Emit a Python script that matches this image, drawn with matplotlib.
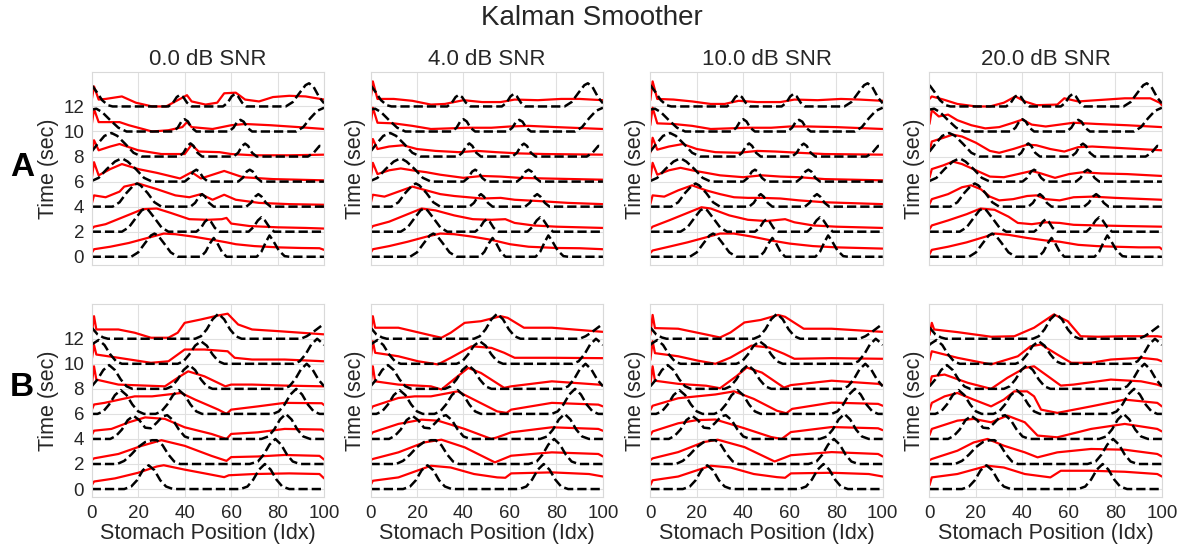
import matplotlib
matplotlib.use("Agg")
import matplotlib.pyplot as plt
import seaborn as sns

snr_titles = ["0.0 dB SNR", "4.0 dB SNR", "10.0 dB SNR", "20.0 dB SNR"]
row_names = ["A", "B"]
times = [0, 2, 4, 6, 8, 10, 12]
xticks = [0, 20, 40, 60, 80, 100]
yticks = [0, 2, 4, 6, 8, 10, 12]

# true wave (black dashed), (position, height above the time line), one list per time
true_A = [
    [(0, 0), (17, 0), (20, 0.35), (23, 1.1), (25.5, 1.7), (27, 1.85), (28.5, 1.7), (31, 1.1), (34, 0.35), (37, 0),
     (47, 0), (49, 0.4), (51, 1.1), (52.5, 1.5), (54, 1.1), (56, 0.4), (58, 0),
     (71, 0), (73, 0.4), (75, 1.2), (76.5, 1.7), (78, 1.3), (80.5, 0.5), (83, 0.05), (85, 0), (100, 0)],
    [(0, 0), (13, 0), (16, 0.35), (19, 1.1), (21.5, 1.7), (23, 1.85), (24.5, 1.7), (27, 1.1), (30, 0.35), (33, 0),
     (45, 0), (47, 0.3), (48.7, 0.8), (50, 1.0), (51.3, 0.8), (53, 0.3), (55, 0),
     (67.5, 0), (69.5, 0.35), (71.5, 0.9), (73, 1.15), (74.5, 0.9), (76.5, 0.35), (78.5, 0), (100, 0)],
    [(0, 0), (9, 0), (12, 0.35), (15, 1.1), (18, 1.7), (19.5, 1.85), (21, 1.7), (24, 1.1), (27, 0.35), (30, 0),
     (42.5, 0), (44.5, 0.3), (46.2, 0.8), (47.5, 1.0), (48.8, 0.8), (50.5, 0.3), (52.5, 0),
     (66.5, 0), (68.5, 0.3), (70.3, 0.8), (71.7, 1.0), (73.1, 0.8), (75, 0.3), (77, 0), (100, 0)],
    [(0, 0.05), (3, 0.3), (6.5, 1.0), (10, 1.6), (12, 1.78), (13.6, 1.8), (15.5, 1.6), (19, 1.0), (22.5, 0.3), (26, 0),
     (40, 0), (42, 0.3), (43.7, 0.8), (45, 0.95), (46.3, 0.8), (48, 0.3), (50, 0),
     (63, 0), (65, 0.3), (66.7, 0.8), (68, 0.95), (69.3, 0.8), (71, 0.3), (73, 0), (100, 0)],
    [(0, 0.4), (2.5, 1.0), (5.5, 1.65), (8.5, 1.88), (11, 1.65), (14.5, 1.0), (18, 0.3), (21.5, 0),
     (37.5, 0), (39.5, 0.3), (41.2, 0.85), (42.5, 1.05), (43.8, 0.85), (45.5, 0.3), (47.5, 0),
     (61, 0), (63, 0.3), (64.7, 0.85), (66, 1.03), (67.3, 0.85), (69, 0.3), (71, 0),
     (93, 0), (95.5, 0.3), (98, 0.85), (100, 0.8)],
    [(0, 1.75), (2, 1.82), (4.5, 1.55), (8, 0.9), (11.5, 0.3), (15, 0),
     (35, 0), (37, 0.3), (38.6, 0.8), (40, 0.98), (41.4, 0.8), (43, 0.3), (45, 0),
     (59, 0), (61, 0.3), (62.6, 0.78), (64, 0.93), (65.4, 0.78), (67, 0.3), (69, 0),
     (88, 0), (91, 0.35), (94, 1.05), (97, 1.65), (100, 1.9)],
    [(0, 1.7), (2, 1.2), (4.5, 0.5), (7, 0.1), (9, 0),
     (33, 0), (35, 0.3), (36.6, 0.75), (38, 0.93), (39.4, 0.75), (41, 0.3), (43, 0),
     (56.5, 0), (58.5, 0.3), (60.2, 0.8), (61.6, 1.0), (63, 0.8), (64.7, 0.3), (66.5, 0),
     (83.5, 0), (86.5, 0.35), (89.5, 1.1), (92, 1.7), (93.5, 1.85), (95.5, 1.55), (98, 0.7), (100, 0.25)],
]

true_B = [
    [(0, 0), (14, 0), (17, 0.2), (19.5, 0.7), (22, 1.5), (24.5, 1.9), (27, 1.5), (29.5, 0.7), (32, 0.2), (35, 0),
     (64, 0), (67, 0.2), (69.5, 0.75), (72, 1.55), (74.5, 2.0), (77, 1.55), (79.5, 0.75), (82, 0.2), (85, 0), (100, 0)],
    [(0, 0), (11, 0), (14, 0.25), (17, 0.75), (20, 1.35), (23, 1.75), (26, 1.9), (28, 1.9), (30.5, 1.5), (33, 0.75),
     (35.5, 0.2), (38, 0), (68, 0), (71.5, 0.2), (74, 0.75), (76.5, 1.55), (79, 2.0), (81.5, 1.55), (84, 0.75),
     (86.5, 0.2), (89.5, 0), (100, 0)],
    [(0, 0), (8, 0), (10.5, 0.25), (13, 0.75), (15.5, 1.5), (18, 1.85), (20.5, 1.5), (23, 0.9), (25.5, 0.85),
     (28, 1.3), (30.5, 1.8), (32.5, 1.9), (35, 1.5), (37.5, 0.75), (40, 0.2), (43, 0),
     (73, 0), (76, 0.2), (78.5, 0.75), (81, 1.55), (83.5, 2.0), (86, 1.55), (88.5, 0.75), (91, 0.2), (94, 0), (100, 0)],
    [(0, 0), (2.5, 0), (5, 0.2), (7.5, 0.75), (10, 1.5), (12.5, 1.9), (15, 1.5), (17.5, 0.75), (20, 0.2), (22.5, 0),
     (27.5, 0), (30, 0.2), (32.5, 0.75), (35, 1.5), (37.5, 1.9), (40, 1.5), (42.5, 0.75), (45, 0.2), (47.5, 0),
     (78, 0), (80.5, 0.2), (83, 0.75), (85.5, 1.55), (88, 2.0), (90.5, 1.55), (93, 0.75), (95.5, 0.2), (98, 0), (100, 0)],
    [(0, 0.2), (2.5, 0.75), (5, 1.5), (7.5, 1.9), (10, 1.5), (12.5, 0.75), (15, 0.2), (17.5, 0),
     (32, 0), (34.5, 0.2), (37, 0.75), (39.5, 1.5), (42, 1.9), (44.5, 1.5), (47, 0.75), (49.5, 0.2), (52, 0),
     (82.5, 0), (85, 0.2), (87.5, 0.75), (90, 1.55), (92.5, 2.0), (95, 1.55), (97.5, 0.75), (100, 0.2)],
    [(0, 1.5), (0.5, 1.6), (3, 1.9), (5.5, 1.5), (8, 0.75), (10.5, 0.2), (13, 0),
     (37, 0), (39.5, 0.2), (42, 0.75), (44.5, 1.45), (47, 1.8), (49.5, 1.45), (52, 0.75), (54.5, 0.2), (57, 0),
     (87, 0), (89.5, 0.2), (92, 0.75), (94.5, 1.55), (97, 2.0), (99.5, 1.6), (100, 1.5)],
    [(0, 0.9), (2.5, 0.35), (5, 0.1), (7, 0),
     (44.5, 0), (47, 0.2), (49.5, 0.75), (52, 1.55), (54.5, 2.0), (57, 1.55), (59.5, 0.75), (62, 0.2), (64.5, 0),
     (90, 0), (92.5, 0.2), (95, 0.5), (97.5, 0.85), (100, 1.2)],
]

# smoother estimate (red), row A
est_A0 = [
    [(0, 0.3), (1, 0.6), (8, 0.8), (16, 1.1), (24, 1.5), (31, 1.85), (36, 1.8), (44, 1.6), (52, 1.35), (58, 1.15),
     (62, 1.0), (70, 0.85), (80, 0.75), (90, 0.7), (98, 0.68), (100, 0.55)],
    [(0, 0.2), (1, 0.4), (6, 0.6), (14, 1.2), (22, 1.8), (28, 1.85), (34, 1.5), (42, 1.0), (50, 0.95), (56, 1.0),
     (58, 1.1), (60, 0.65), (68, 0.45), (80, 0.35), (92, 0.3), (100, 0.25)],
    [(0, 0.2), (1, 0.9), (6, 0.75), (12, 1.2), (14, 1.6), (20, 1.85), (28, 1.4), (36, 0.9), (42, 0.75), (47, 1.0),
     (52, 0.55), (57, 0.95), (62, 0.55), (72, 0.3), (85, 0.2), (100, 0.15)],
    [(0, 0.2), (1, 1.55), (3, 0.5), (8, 1.0), (13, 1.4), (20, 1.0), (28, 0.7), (38, 0.25), (43, 0.75), (47, 0.25),
     (57, 0.85), (65, 0.35), (78, 0.2), (100, 0.1)],
    [(0, 0.3), (1, 1.3), (3, 0.5), (8, 0.8), (12, 1.0), (20, 0.5), (30, 0.2), (40, 0.2), (43, 0.95), (46, 0.4),
     (55, 0.35), (60, 0.2), (70, 0.1), (85, 0.1), (100, 0.15)],
    [(0, 0.5), (1, 1.8), (3, 0.75), (12, 0.75), (16, 0.5), (26, 0.0), (33, 0.1), (39, 0.35), (41, 0.75), (43, 0.35),
     (52, 0.2), (60, 0.5), (66, 0.6), (77, 0.5), (89, 0.35), (100, 0.2)],
    [(0, 0.5), (1, 1.6), (3, 0.55), (6, 0.6), (13, 0.8), (19, 0.3), (26, 0.0), (32, 0.0), (37, 0.5), (41, 0.9),
     (43, 0.4), (49, 0.15), (54, 0.3), (57, 1.05), (62, 1.1), (66, 0.55), (72, 0.4), (78, 0.75), (85, 0.85),
     (92, 0.8), (100, 0.55)],
]
est_A1 = [
    [(0, 0.3), (1, 0.6), (8, 0.85), (16, 1.2), (24, 1.6), (30, 1.85), (36, 1.8), (44, 1.6), (52, 1.35), (60, 1.0),
     (68, 0.8), (80, 0.7), (90, 0.68), (100, 0.6)],
    [(0, 0.2), (1, 0.45), (8, 0.8), (16, 1.4), (22, 1.85), (28, 1.7), (36, 1.3), (44, 1.0), (52, 0.95), (58, 1.0),
     (62, 0.7), (70, 0.5), (80, 0.4), (100, 0.3)],
    [(0, 0.2), (1, 0.95), (6, 0.8), (12, 1.2), (18, 1.6), (24, 1.3), (30, 1.0), (36, 0.85), (42, 0.75), (48, 0.65),
     (56, 0.7), (62, 0.55), (72, 0.45), (85, 0.3), (100, 0.2)],
    [(0, 0.2), (1, 1.5), (3, 0.6), (8, 0.9), (13, 1.05), (18, 0.9), (24, 0.75), (30, 0.55), (40, 0.3), (48, 0.45),
     (56, 0.4), (64, 0.3), (75, 0.25), (100, 0.15)],
    [(0, 0.3), (1, 1.4), (3, 0.6), (8, 0.8), (14, 0.9), (20, 0.6), (28, 0.45), (38, 0.35), (46, 0.45), (54, 0.35),
     (64, 0.25), (75, 0.2), (100, 0.15)],
    [(0, 0.5), (1, 1.9), (3, 0.7), (10, 0.65), (18, 0.45), (26, 0.2), (34, 0.25), (42, 0.3), (52, 0.3), (60, 0.4),
     (68, 0.45), (80, 0.35), (100, 0.2)],
    [(0, 0.5), (1, 2.0), (3, 0.6), (10, 0.6), (18, 0.45), (26, 0.15), (32, 0.2), (40, 0.5), (48, 0.35), (56, 0.35),
     (62, 0.55), (72, 0.5), (82, 0.6), (90, 0.6), (100, 0.5)],
]
est_A2 = [
    [(0, 0.3), (1, 0.5), (8, 0.8), (16, 1.15), (24, 1.55), (30, 1.85), (36, 1.85), (44, 1.6), (52, 1.3), (60, 1.05),
     (70, 0.85), (80, 0.75), (90, 0.7), (100, 0.65)],
    [(0, 0.2), (1, 0.4), (8, 0.9), (16, 1.5), (22, 1.95), (26, 1.85), (34, 1.3), (42, 0.95), (50, 0.85), (58, 1.0),
     (62, 0.75), (70, 0.5), (80, 0.4), (100, 0.3)],
    [(0, 0.2), (1, 0.9), (6, 0.8), (12, 1.3), (18, 1.7), (24, 1.3), (30, 1.0), (36, 0.75), (42, 0.7), (48, 0.7),
     (56, 0.65), (64, 0.5), (75, 0.35), (100, 0.2)],
    [(0, 0.2), (1, 1.5), (3, 0.55), (8, 0.9), (13, 1.1), (18, 0.9), (24, 0.7), (30, 0.5), (40, 0.35), (48, 0.5),
     (56, 0.4), (64, 0.35), (75, 0.2), (100, 0.1)],
    [(0, 0.3), (1, 1.5), (3, 0.55), (8, 0.8), (14, 1.0), (20, 0.6), (28, 0.35), (38, 0.3), (46, 0.45), (54, 0.4),
     (64, 0.3), (75, 0.2), (100, 0.15)],
    [(0, 0.5), (1, 1.9), (3, 0.65), (10, 0.6), (18, 0.45), (26, 0.2), (34, 0.25), (42, 0.3), (52, 0.3), (60, 0.4),
     (68, 0.4), (80, 0.35), (100, 0.2)],
    [(0, 0.5), (1, 2.0), (3, 0.6), (10, 0.55), (18, 0.4), (26, 0.2), (32, 0.2), (38, 0.45), (46, 0.35), (56, 0.35),
     (62, 0.55), (72, 0.5), (82, 0.6), (90, 0.55), (100, 0.45)],
]
est_A3 = [
    [(0, 0.2), (1, 0.55), (8, 0.8), (16, 1.15), (24, 1.6), (28, 1.85), (34, 1.75), (42, 1.5), (50, 1.3), (56, 1.2),
     (64, 0.95), (72, 0.85), (80, 0.8), (90, 0.75), (99, 0.75), (100, 0.6)],
    [(0, 0.2), (1, 0.5), (8, 0.9), (16, 1.4), (22, 1.85), (28, 1.75), (34, 1.2), (38, 0.7), (44, 0.6), (50, 0.75),
     (56, 0.7), (62, 0.55), (72, 0.5), (85, 0.45), (100, 0.4)],
    [(0, 0.2), (1, 0.6), (8, 1.0), (14, 1.55), (18, 1.7), (22, 1.4), (26, 0.8), (30, 0.5), (36, 0.6), (42, 0.85),
     (46, 0.9), (50, 0.6), (56, 0.5), (62, 0.75), (70, 0.8), (80, 0.7), (100, 0.55)],
    [(0, 0.3), (1, 1.0), (6, 1.3), (10, 1.6), (14, 1.4), (20, 0.9), (26, 0.4), (32, 0.35), (38, 0.6), (44, 0.85),
     (48, 0.65), (54, 0.3), (60, 0.6), (66, 0.75), (74, 0.65), (85, 0.6), (100, 0.45)],
    [(0, 0.4), (1, 1.2), (6, 1.5), (10, 1.75), (14, 1.6), (20, 1.1), (26, 0.45), (30, 0.3), (36, 0.6), (42, 0.95),
     (46, 0.9), (52, 0.6), (58, 0.4), (64, 0.75), (70, 0.8), (80, 0.7), (100, 0.5)],
    [(0, 0.6), (1, 1.7), (4, 1.2), (8, 1.35), (12, 0.9), (18, 0.5), (24, 0.25), (30, 0.35), (36, 0.7), (40, 0.95),
     (44, 0.55), (50, 0.4), (56, 0.55), (62, 0.7), (72, 0.6), (85, 0.5), (100, 0.35)],
    [(0, 0.6), (1, 0.8), (6, 0.55), (12, 0.2), (20, 0.0), (26, 0.0), (32, 0.3), (37, 0.8), (41, 0.4), (46, 0.1),
     (55, 0.15), (58, 0.65), (64, 0.4), (72, 0.5), (84, 0.65), (95, 0.65), (99, 0.3), (100, 0.1)],
]

# smoother estimate (red), row B
est_B0 = [
    [(0, 0.3), (1, 0.6), (10, 0.85), (20, 1.3), (28, 1.8), (31, 1.9), (40, 1.55), (50, 1.2), (57, 0.95), (59, 1.1),
     (70, 1.2), (85, 1.25), (98, 1.2), (100, 0.85)],
    [(0, 0.3), (1, 0.45), (11.5, 0.8), (21.5, 1.45), (30, 1.9), (40, 1.45), (51.5, 0.65), (58, 0.25), (60, 0.55),
     (71.5, 0.6), (83, 0.72), (98, 0.65), (100, 0.35)],
    [(0, 0.3), (1, 0.66), (8.5, 0.8), (16, 1.33), (23, 1.72), (31.5, 1.6), (40, 0.93), (51.5, 0.4), (58, 0.0),
     (60, 0.4), (71.5, 0.53), (83, 0.8), (99, 0.75), (100, 0.6)],
    [(0, 0.3), (1, 0.75), (5.5, 0.88), (18.5, 1.4), (26, 1.4), (38.5, 1.67), (44.5, 1.14), (54.5, 0.34), (58, 0.0),
     (60, 0.34), (71.5, 0.6), (83, 0.88), (99, 0.85), (100, 0.7)],
    [(0, 0.3), (1, 1.8), (2, 0.74), (11.5, 0.34), (23, 0.26), (31.5, 0.2), (37, 0.88), (41.5, 1.4), (48.5, 1.0),
     (57.5, 0.2), (60, 0.34), (69, 0.34), (83, 0.26), (100, 0.2)],
    [(0, 0.3), (1, 1.5), (2, 0.74), (11.5, 0.48), (25.5, 0.08), (33, 0.2), (40, 1.14), (48.5, 1.14), (58.5, 1.0),
     (61.5, 0.48), (69, 0.34), (83, 0.34), (100, 0.2)],
    [(0, 0.3), (1, 1.8), (2, 0.74), (11.5, 0.74), (18.5, 0.48), (25.5, 0.08), (33, 0.08), (37, 0.48), (40, 1.27),
     (47, 1.54), (54.5, 1.86), (58.5, 2.0), (63, 1.14), (69, 0.74), (80, 0.61), (100, 0.35)],
]
est_B1 = [
    [(0, 0.3), (1, 0.66), (12, 0.93), (26, 1.86), (34.5, 1.72), (44.5, 1.2), (54.5, 0.93), (58, 0.9), (60.5, 1.25),
     (78, 1.33), (94, 1.2), (100, 1.0)],
    [(0, 0.3), (1, 0.4), (12, 0.93), (23, 1.72), (30.5, 1.94), (40.5, 1.33), (53.5, 0.13), (60.5, 0.66), (78, 0.93),
     (98, 0.8), (100, 0.6)],
    [(0, 0.3), (1, 0.53), (12, 1.2), (22, 1.54), (29, 1.46), (40.5, 0.8), (52, 0.0), (54.5, 0.13), (60.5, 0.53),
     (78, 0.93), (98, 0.8), (100, 0.65)],
    [(0, 0.3), (1, 0.6), (12, 1.27), (19, 1.4), (26, 1.4), (37.5, 1.8), (44.5, 1.14), (54.5, 0.2), (58.5, 0.08),
     (60.5, 0.34), (78, 0.88), (98, 0.74), (100, 0.6)],
    [(0, 0.3), (1, 1.8), (2, 0.6), (12, 0.34), (26, 0.2), (30.5, -0.05), (37.5, 1.0), (42, 1.67), (47.5, 1.27),
     (57.5, 0.08), (60.5, 0.2), (78, 0.6), (98, 0.34), (100, 0.3)],
    [(0, 0.3), (1, 1.8), (2, 0.88), (12, 0.6), (20.5, 0.2), (29, -0.05), (34.5, 0.48), (43.5, 1.4), (52, 1.27),
     (57.5, 0.88), (62, 0.48), (78, 0.48), (100, 0.45)],
    [(0, 0.3), (1, 1.8), (2, 0.88), (12, 0.88), (26, 0.27), (30.5, 0.08), (34.5, 0.48), (40.5, 1.27), (47.5, 1.4),
     (56, 1.8), (59, 1.67), (66, 0.88), (78, 0.88), (100, 0.55)],
]
est_B2 = [
    [(0, 0.3), (1, 0.7), (12, 1.0), (26, 1.86), (34.5, 1.72), (44.5, 1.2), (54.5, 0.95), (58, 0.9), (60.5, 1.25),
     (78, 1.3), (94, 1.2), (100, 1.0)],
    [(0, 0.3), (1, 0.45), (12, 0.95), (23, 1.75), (29, 1.94), (40.5, 1.35), (53.5, 0.2), (60.5, 0.7), (78, 0.95),
     (98, 0.8), (100, 0.6)],
    [(0, 0.3), (1, 0.6), (12, 1.25), (20, 1.5), (28, 1.55), (40.5, 0.85), (52, 0.15), (56.5, 0.0), (60.5, 0.55),
     (78, 0.95), (98, 0.85), (100, 0.7)],
    [(0, 0.3), (1, 0.65), (12, 1.25), (20, 1.4), (28, 1.55), (36, 1.8), (44.5, 1.2), (54.5, 0.25), (58.5, 0.05),
     (61, 0.4), (78, 0.9), (98, 0.8), (100, 0.65)],
    [(0, 0.3), (1, 1.8), (2, 0.65), (12, 0.4), (24, 0.25), (30, 0.05), (37, 1.0), (41.5, 1.7), (48, 1.3),
     (57.5, 0.1), (60.5, 0.3), (78, 0.65), (98, 0.4), (100, 0.3)],
    [(0, 0.3), (1, 1.8), (2, 0.85), (12, 0.6), (20.5, 0.25), (28, 0.0), (34.5, 0.5), (43.5, 1.45), (51, 1.3),
     (57.5, 0.8), (62, 0.4), (78, 0.45), (100, 0.4)],
    [(0, 0.3), (1, 1.9), (2, 0.85), (12, 0.8), (25, 0.3), (30, 0.1), (34.5, 0.5), (40.5, 1.3), (47.5, 1.5),
     (55, 1.9), (58, 1.75), (66, 0.8), (78, 0.8), (100, 0.55)],
]
est_B3 = [
    [(0, 0.3), (1, 0.93), (12, 1.2), (25, 1.86), (32, 1.72), (41, 1.2), (52, 0.93), (56.5, 1.46), (69.5, 1.46),
     (84, 1.38), (98, 1.2), (100, 1.0)],
    [(0, 0.3), (1, 0.4), (12, 1.06), (19, 1.72), (25, 2.0), (32, 1.46), (41, 0.93), (46.5, 0.53), (55, 0.93),
     (69.5, 1.2), (84, 1.14), (98, 0.8), (100, 0.6)],
    [(0, 0.3), (1, 0.8), (12, 1.46), (19, 1.6), (26.5, 1.33), (33.5, 1.86), (41, 1.33), (46.5, 0.27), (55, 0.13),
     (69.5, 0.8), (84, 1.2), (98, 0.8), (100, 0.6)],
    [(0, 0.3), (1, 0.88), (6.5, 1.4), (12, 1.67), (19, 1.14), (26.5, 0.6), (32, 1.14), (36.5, 1.8), (42, 1.8),
     (45, 1.4), (48, 0.34), (55, 0.08), (69.5, 0.6), (84, 1.14), (98, 0.88), (100, 0.6)],
    [(0, 0.3), (1, 1.0), (6.5, 1.14), (16.5, 0.48), (26.5, 0.0), (33.5, 0.88), (41, 1.67), (45, 1.8), (51, 1.0),
     (56.5, 0.26), (62, 0.34), (78, 0.74), (91, 0.6), (98, 0.34), (100, 0.2)],
    [(0, 0.3), (1, 1.0), (12, 0.48), (26.5, -0.05), (38, 0.6), (43.5, 1.4), (48, 1.54), (55, 0.74), (61, 0.08),
     (69.5, 0.08), (78, 0.34), (91, 0.48), (98, 0.34), (100, 0.2)],
    [(0, 0.3), (1, 1.27), (2, 0.74), (12, 0.53), (26.5, 0.16), (36.5, 0.2), (45, 0.88), (53.5, 1.94), (59.5, 1.4),
     (65, 0.2), (72.5, 0.16), (84, 0.2), (98, 0.2), (100, 0.15)],
]

est_rows = [[est_A0, est_A1, est_A2, est_A3], [est_B0, est_B1, est_B2, est_B3]]
true_rows = [true_A, true_B]

sns.set_style("whitegrid")
plt.rcParams["font.family"] = ["Liberation Sans", "DejaVu Sans"]
plt.rcParams["text.color"] = ".15"
plt.rcParams["axes.labelcolor"] = ".15"
plt.rcParams["xtick.color"] = ".15"
plt.rcParams["ytick.color"] = ".15"

fig = plt.figure(figsize=(11.83, 5.48), dpi=100)
lefts = [0.0775, 0.3132, 0.5497, 0.7857]
bottoms = [0.5164, 0.0925]
w, h = 0.1965, 0.3522

for r in range(2):
    for c in range(4):
        ax = fig.add_axes([lefts[c], bottoms[r], w, h])
        for k, t in enumerate(times):
            xs = [p[0] for p in est_rows[r][c][k]]
            ys = [p[1] + t for p in est_rows[r][c][k]]
            ax.plot(xs, ys, color="red", lw=1.6)
            xs = [p[0] for p in true_rows[r][k]]
            ys = [p[1] + t for p in true_rows[r][k]]
            ax.plot(xs, ys, "k--", lw=1.8)
        ax.set_xlim(0, 100)
        ax.set_ylim(-0.66, 14.75)
        ax.set_xticks(xticks)
        ax.set_yticks(yticks)
        ax.tick_params(labelsize=13.5, pad=2)
        for s in ax.spines.values():
            s.set_color(".85")
        ax.grid(color=".88")
        ax.set_ylabel("Time (sec)", fontsize=15.5, labelpad=3)
        if c > 0:
            ax.tick_params(labelleft=False)
        if r == 0:
            ax.tick_params(labelbottom=False)
            ax.set_title(snr_titles[c], fontsize=16, pad=5)
        else:
            ax.set_xlabel("Stomach Position (Idx)", fontsize=15.5, labelpad=1)

fig.suptitle("Kalman Smoother", fontsize=20, y=0.967, va="center")
fig.text(0.0185, 0.695, row_names[0], fontsize=24, fontweight="bold", ha="center", va="center", color="black")
fig.text(0.0185, 0.292, row_names[1], fontsize=24, fontweight="bold", ha="center", va="center", color="black")

fig.savefig("out.png", dpi=100)
